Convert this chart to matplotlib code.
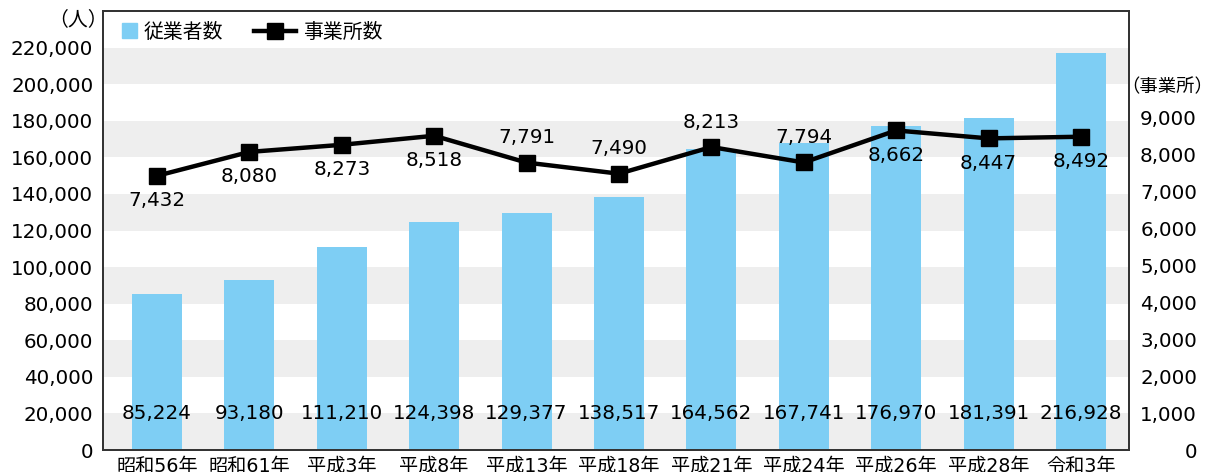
import matplotlib
matplotlib.use("Agg")
from matplotlib import pyplot as plt
from matplotlib.lines import Line2D
from matplotlib.patches import Patch, Rectangle
from matplotlib.legend_handler import HandlerPatch
import numpy as np

plt.rcParams['font.family'] = ['DejaVu Sans', 'Noto Sans CJK JP']

years = ['昭和56年', '昭和61年', '平成3年', '平成8年', '平成13年', '平成18年',
         '平成21年', '平成24年', '平成26年', '平成28年', '令和3年']
workers = [85224, 93180, 111210, 124398, 129377, 138517,
           164562, 167741, 176970, 181391, 216928]
offices = [7432, 8080, 8273, 8518, 7791, 7490, 8213, 7794, 8662, 8447, 8492]
# which office labels sit above the marker
above = [False, False, False, False, True, True, True, True, False, False, False]

bar_col = '#7ecef4'
fs = 14.3

fig = plt.figure(figsize=(12.08, 4.72), dpi=100)
ax = fig.add_axes([103/1208, 22/472, 1026/1208, 439/472])
ax2 = ax.twinx()

x = np.arange(len(years))

# alternating bands
for lo in range(0, 220000, 40000):
    ax.axhspan(lo, lo + 20000, color='#eeeeee', zorder=0, lw=0)

ax.bar(x, workers, width=0.54, color=bar_col, zorder=2)
for xi, v in zip(x, workers):
    ax.text(xi, 20000, f'{v:,}', ha='center', va='center', fontsize=fs, zorder=3)

ax.set_xlim(-0.584, len(years) - 0.48)
ax.set_ylim(0, 240000)
ax.tick_params(axis='both', length=0, pad=7)
ax.tick_params(axis='x', pad=5)
ax.set_yticks(range(0, 220001, 20000))
ax.set_yticklabels([f'{v:,}' for v in range(0, 220001, 20000)], fontsize=fs)
ax.set_xticks(x)
ax.set_xticklabels(years, fontsize=fs - 0.5)

ax2.plot(x, offices, color='black', lw=3.2, marker='s', markersize=11, zorder=4)
for xi, v, up in zip(x, offices, above):
    ax2.annotate(f'{v:,}', (xi, v), xytext=(0, 18 if up else -18),
                 textcoords='offset points', ha='center', va='center', fontsize=fs)
ax2.set_ylim(0, 11900)
ax2.tick_params(axis='y', length=0, pad=49)
ax2.set_yticks(range(0, 9001, 1000))
ax2.set_yticklabels([f'{v:,}' for v in range(0, 9001, 1000)], fontsize=fs, ha='right')
for t in ax2.yaxis.get_major_ticks():
    t.label2.set_horizontalalignment('right')

for a in (ax, ax2):
    for s in a.spines.values():
        s.set_color('#333333')
        s.set_linewidth(1.3)

fig.text(108/1208, 1 - 20/472, '（人）', ha='right', va='center', fontsize=fs)
fig.text(1167/1208, 1 - 87/472, '（事業所）', ha='center', va='center', fontsize=13.2)


def square_patch(legend, orig_handle, xdescent, ydescent, width, height, fontsize):
    s = height * 1.05
    return Rectangle((width - s - xdescent, -ydescent + (height - s) / 2), s, s)


handles = [Patch(color=bar_col),
           Line2D([], [], color='black', lw=3.2, marker='s', markersize=11)]
ax.legend(handles, ['従業者数', '事業所数'], loc='upper left', ncol=2, frameon=False,
          fontsize=fs, bbox_to_anchor=(-0.021, 1.005), handlelength=2.1,
          columnspacing=1.55, handletextpad=0.35, borderaxespad=0.3,
          handler_map={Patch: HandlerPatch(patch_func=square_patch)})

fig.savefig('out.png', dpi=100)
